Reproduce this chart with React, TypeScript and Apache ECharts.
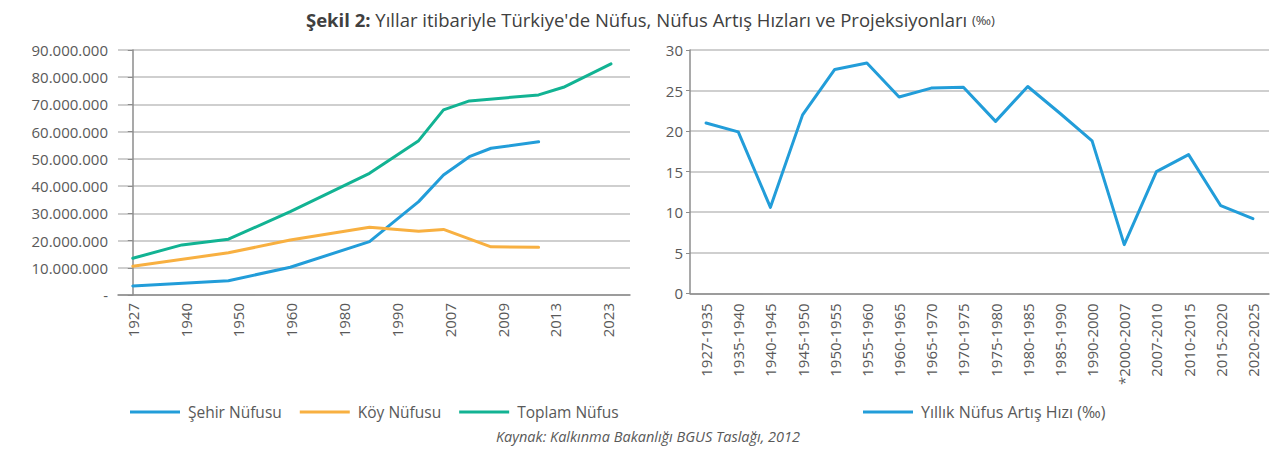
import React, { useEffect, useRef } from "react";
import * as echarts from "echarts";

// Left chart: population (millions)
const leftYearLabels = ["1927", "1940", "1950", "1960", "1980", "1990", "2007", "2009", "2013", "2023"];
const obsX = [0, 0.93, 1.81, 2.98, 4.48, 5.41, 5.88, 6.37, 6.78, 7.68, 8.15, 9.05];
const sehirNufusu = [3.3, null, 5.25, 10.2, 19.6, 34.3, 44.1, 50.8, 53.9, 56.3, null, null];
const koyNufusu = [10.6, null, 15.5, 20.2, 24.9, 23.4, 24.1, null, 17.7, 17.5, null, null];
const toplamNufus = [13.5, 18.4, 20.5, 30.6, 44.7, 56.7, 68.0, 71.3, null, 73.5, 76.3, 84.9];

// Right chart: annual growth rate (‰)
const periods = [
  "1927-1935", "1935-1940", "1940-1945", "1945-1950", "1950-1955", "1955-1960",
  "1960-1965", "1965-1970", "1970-1975", "1975-1980", "1980-1985", "1985-1990",
  "1990-2000", "*2000-2007", "2007-2010", "2010-2015", "2015-2020", "2020-2025",
];
const artisHizi = [21.0, 19.9, 10.6, 22.0, 27.6, 28.4, 24.2, 25.3, 25.4, 21.2, 25.5, 22.2, 18.8, 6.0, 15.0, 17.1, 10.8, 9.2];

const FONT = "Open Sans";
const GRAY = "#595959";
const AXIS = "#8c8c8c";
const GRID = "#bfbfbf";
const BLUE = "#229dd9";
const ORANGE = "#f8b041";
const GREEN = "#12b393";

function pairs(vals: (number | null)[]) {
  return vals.map((v, i) => [obsX[i], v == null ? null : v * 1e6]);
}

function fmtDots(v: number) {
  if (v === 0) return "-";
  return String(Math.round(v)).replace(/\B(?=(\d{3})+(?!\d))/g, ".");
}

export default function App() {
  const ref = useRef<HTMLDivElement>(null);
  useEffect(() => {
    document.body.style.margin = "0";
    const chart = echarts.init(ref.current!, null, { renderer: "svg" });
    const lineSeries = (name: string, data: any, color: string, xi: number, yi: number) => ({
      name,
      type: "line",
      xAxisIndex: xi,
      yAxisIndex: yi,
      data,
      symbol: "none",
      connectNulls: true,
      lineStyle: { color, width: 3, cap: "round", join: "round" },
      itemStyle: { color },
    });
    chart.setOption({
      animation: false,
      textStyle: { fontFamily: FONT },
      title: {
        text: "{b|Şekil 2:} Yıllar itibariyle Türkiye'de Nüfus, Nüfus Artış Hızları ve Projeksiyonları {s|(‰)}",
        left: 301,
        top: 5,
        textStyle: {
          fontFamily: FONT,
          fontSize: 18.5,
          fontWeight: "normal",
          color: "#404040",
          rich: {
            b: { fontFamily: FONT, fontSize: 18.5, fontWeight: "bold", color: "#404040" },
            s: { fontFamily: FONT, fontSize: 13, color: "#404040" },
          },
        },
      },
      grid: [
        { left: 118, top: 50, width: 512, height: 245 },
        { left: 690, top: 50, width: 579, height: 243.3 },
      ],
      xAxis: [
        {
          type: "value",
          gridIndex: 0,
          min: -0.28,
          max: 9.41,
          splitLine: { show: false },
          axisLine: { show: true, lineStyle: { color: AXIS, width: 1.5 } },
          axisTick: { show: false },
          axisLabel: {
            customValues: leftYearLabels.map((_, i) => i),
            formatter: (v: number) => leftYearLabels[Math.round(v)] ?? "",
            rotate: 90,
            margin: 8,
            color: GRAY,
            fontFamily: FONT,
            fontSize: 15,
          },
        },
        {
          type: "category",
          gridIndex: 1,
          data: periods,
          boundaryGap: true,
          axisLine: { show: true, lineStyle: { color: AXIS, width: 1.5 } },
          axisTick: { show: false },
          axisLabel: {
            interval: 0,
            rotate: 90,
            margin: 10,
            color: GRAY,
            fontFamily: FONT,
            fontSize: 15,
          },
        },
      ],
      yAxis: [
        {
          type: "value",
          gridIndex: 0,
          min: 0,
          max: 90000000,
          interval: 10000000,
          axisLine: { show: true, lineStyle: { color: AXIS, width: 1.5 } },
          axisTick: { show: true, length: 5, lineStyle: { color: AXIS } },
          splitLine: { show: true, lineStyle: { color: GRID, width: 1.5 } },
          axisLabel: {
            formatter: fmtDots,
            margin: 10,
            color: GRAY,
            fontFamily: FONT,
            fontSize: 15,
          },
        },
        {
          type: "value",
          gridIndex: 1,
          min: 0,
          max: 30,
          interval: 5,
          axisLine: { show: true, lineStyle: { color: AXIS, width: 1.5 } },
          axisTick: { show: true, length: 4, lineStyle: { color: AXIS } },
          splitLine: { show: true, lineStyle: { color: GRID, width: 1.5 } },
          axisLabel: {
            margin: 7,
            color: GRAY,
            fontFamily: FONT,
            fontSize: 15,
          },
        },
      ],
      legend: [
        {
          data: ["Şehir Nüfusu", "Köy Nüfusu", "Toplam Nüfus"],
          left: 125,
          top: 399,
          icon: "rect",
          itemWidth: 50,
          itemHeight: 3,
          itemGap: 18,
          textStyle: { color: GRAY, fontFamily: FONT, fontSize: 15.5, padding: [0, 0, 0, 3] },
        },
        {
          data: ["Yıllık Nüfus Artış Hızı (‰)"],
          left: 858,
          top: 399,
          icon: "rect",
          itemWidth: 50,
          itemHeight: 3,
          textStyle: { color: GRAY, fontFamily: FONT, fontSize: 16, padding: [0, 0, 0, 3] },
        },
      ],
      graphic: [
        {
          type: "text",
          left: 496,
          top: 429,
          style: {
            text: "Kaynak: Kalkınma Bakanlığı BGUS Taslağı, 2012",
            fontFamily: FONT,
            fontStyle: "italic",
            fontSize: 14.5,
            fill: GRAY,
          },
        },
      ],
      series: [
        lineSeries("Şehir Nüfusu", pairs(sehirNufusu), BLUE, 0, 0),
        lineSeries("Köy Nüfusu", pairs(koyNufusu), ORANGE, 0, 0),
        lineSeries("Toplam Nüfus", pairs(toplamNufus), GREEN, 0, 0),
        lineSeries("Yıllık Nüfus Artış Hızı (‰)", artisHizi, BLUE, 1, 1),
      ],
    });
    return () => chart.dispose();
  }, []);
  return <div ref={ref} style={{ width: 1284, height: 450 }} />;
}
